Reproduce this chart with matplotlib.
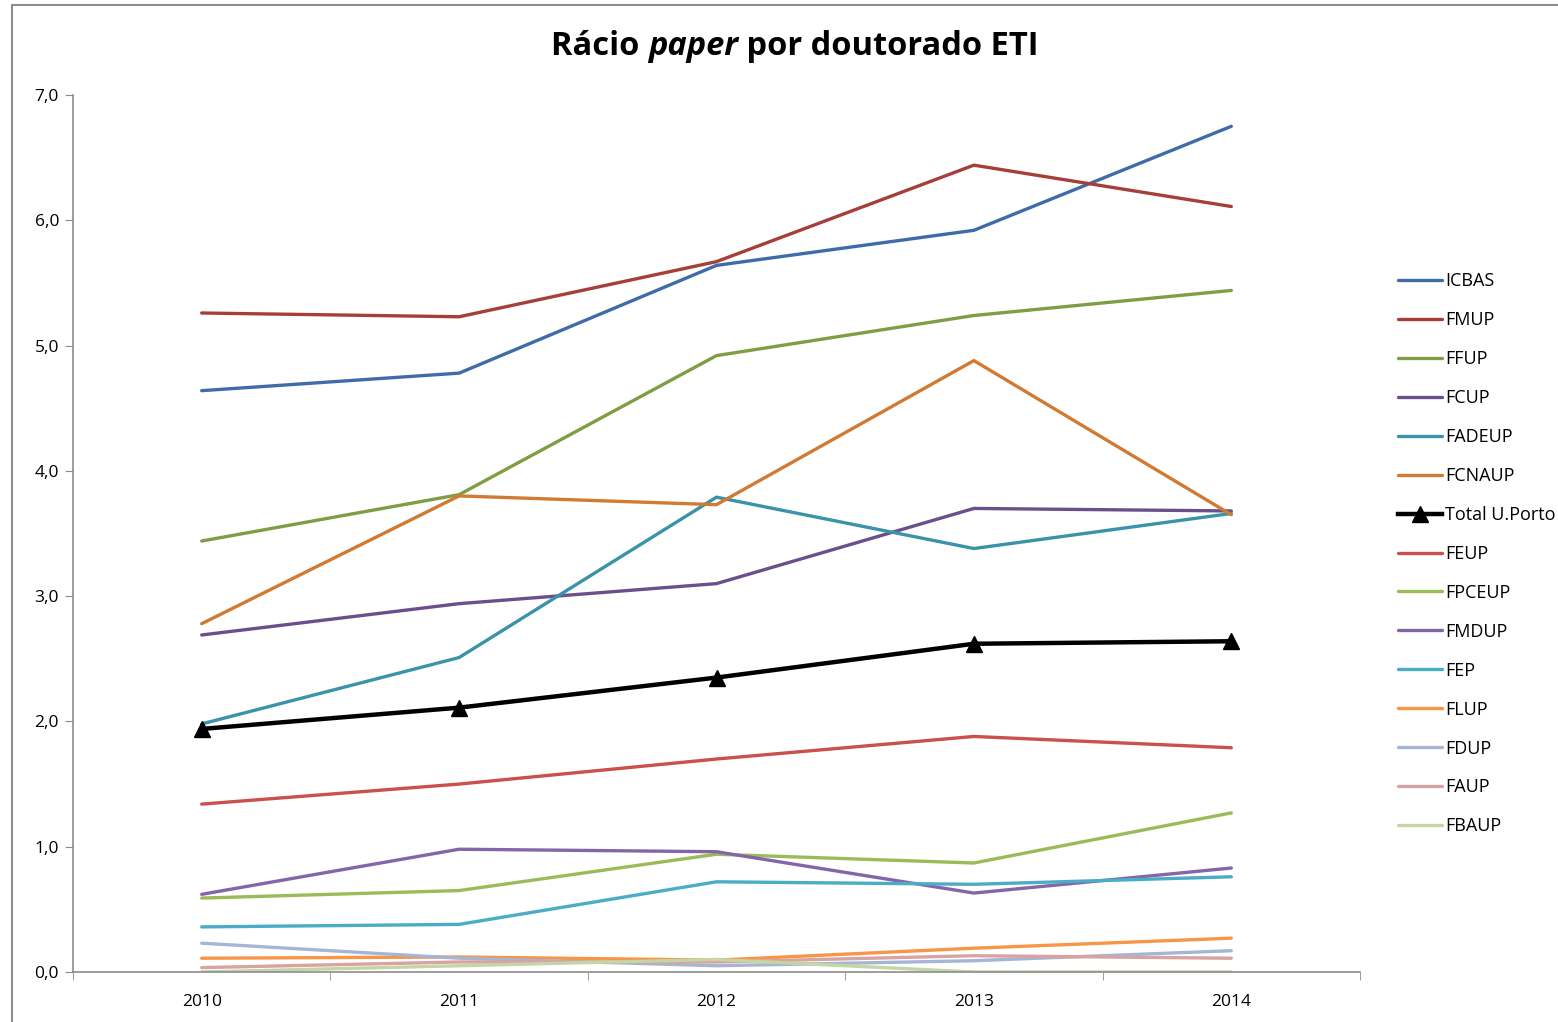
import matplotlib

matplotlib.use("Agg")
import matplotlib.pyplot as plt
from matplotlib.patches import Rectangle

YEARS = [2010, 2011, 2012, 2013, 2014]

ICBAS = [4.64, 4.78, 5.64, 5.92, 6.75]
FMUP = [5.26, 5.23, 5.67, 6.44, 6.11]
FFUP = [3.44, 3.81, 4.92, 5.24, 5.44]
FCUP = [2.69, 2.94, 3.10, 3.70, 3.68]
FADEUP = [1.98, 2.51, 3.79, 3.38, 3.66]
FCNAUP = [2.78, 3.80, 3.73, 4.88, 3.65]
TOTAL = [1.94, 2.11, 2.35, 2.62, 2.64]
FEUP = [1.34, 1.50, 1.70, 1.88, 1.79]
FPCEUP = [0.59, 0.65, 0.94, 0.87, 1.27]
FMDUP = [0.62, 0.98, 0.96, 0.63, 0.83]
FEP = [0.36, 0.38, 0.72, 0.70, 0.76]
FLUP = [0.11, 0.12, 0.095, 0.19, 0.27]
FDUP = [0.23, 0.11, 0.05, 0.09, 0.17]
FAUP = [0.035, 0.08, 0.08, 0.13, 0.11]
FBAUP = [0.0, 0.05, 0.10, 0.0, 0.0]

SERIES = [
    ("ICBAS", ICBAS, "#3F6CA8"),
    ("FMUP", FMUP, "#A63E3A"),
    ("FFUP", FFUP, "#7F9D43"),
    ("FCUP", FCUP, "#6B4F8C"),
    ("FADEUP", FADEUP, "#3A93A9"),
    ("FCNAUP", FCNAUP, "#D27A32"),
    ("Total U.Porto", TOTAL, "#000000"),
    ("FEUP", FEUP, "#C9504C"),
    ("FPCEUP", FPCEUP, "#9BBB59"),
    ("FMDUP", FMDUP, "#8466A8"),
    ("FEP", FEP, "#4BACC6"),
    ("FLUP", FLUP, "#F79646"),
    ("FDUP", FDUP, "#A5B6D5"),
    ("FAUP", FAUP, "#D8A3A2"),
    ("FBAUP", FBAUP, "#C3D6A4"),
]

FONT = "Open Sans"
plt.rcParams["font.family"] = [FONT, "DejaVu Sans"]

fig = plt.figure(figsize=(15.58, 10.22), dpi=100)
ax = fig.add_axes([73 / 1558, 1 - 972 / 1022, (1360 - 73) / 1558, (972 - 95) / 1022])

# outer chart border
fig.patches.append(Rectangle((12 / 1558, -0.01), 1.1, 1 - 5 / 1022 + 0.01,
                             transform=fig.transFigure, fill=False,
                             edgecolor="#8c8c8c", linewidth=1.5))

for name, values, color in SERIES:
    if name == "Total U.Porto":
        ax.plot(YEARS, values, color=color, linewidth=3.2, marker="^",
                markersize=11, label=name, zorder=3)
    else:
        ax.plot(YEARS, values, color=color, linewidth=2.4, label=name,
                solid_capstyle="round")

ax.set_xlim(2009.5, 2014.5)
ax.set_ylim(0, 7)
ax.set_yticks([0, 1, 2, 3, 4, 5, 6, 7])
ax.set_yticklabels([f"{v:.1f}".replace(".", ",") for v in range(8)], fontsize=12.5)
ax.set_xticks(YEARS)
ax.set_xticklabels([str(y) for y in YEARS], fontsize=12.5)
ax.set_xticks([2009.5 + i for i in range(6)], minor=True)
ax.tick_params(axis="x", which="major", length=0, pad=16)
ax.tick_params(axis="x", which="minor", length=6, color="#8c8c8c", direction="out")
ax.tick_params(axis="y", length=6, color="#8c8c8c", direction="out", pad=4)
for side in ("top", "right"):
    ax.spines[side].set_visible(False)
for side in ("left", "bottom"):
    ax.spines[side].set_color("#8c8c8c")
    ax.spines[side].set_linewidth(1.2)

leg = fig.legend(loc="upper left", bbox_to_anchor=(1391 / 1558, 1 - 265 / 1022),
                 frameon=False, fontsize=13, handlelength=2.45, handletextpad=0.15,
                 labelspacing=1.16, borderaxespad=0)

# title with italic word
parts = [("Rácio ", "normal"), ("paper", "italic"), (" por doutorado ETI", "normal")]
texts = [fig.text(0, 1 - 46 / 1022, s, fontsize=23.5, fontweight="bold", style=st,
                  va="center", ha="left") for s, st in parts]
fig.canvas.draw()
renderer = fig.canvas.get_renderer()
widths = [t.get_window_extent(renderer).width for t in texts]
total = sum(widths)
x = 795 - total / 2
for t, w in zip(texts, widths):
    t.set_x(x / 1558)
    x += w

fig.savefig("out.png", dpi=100)
